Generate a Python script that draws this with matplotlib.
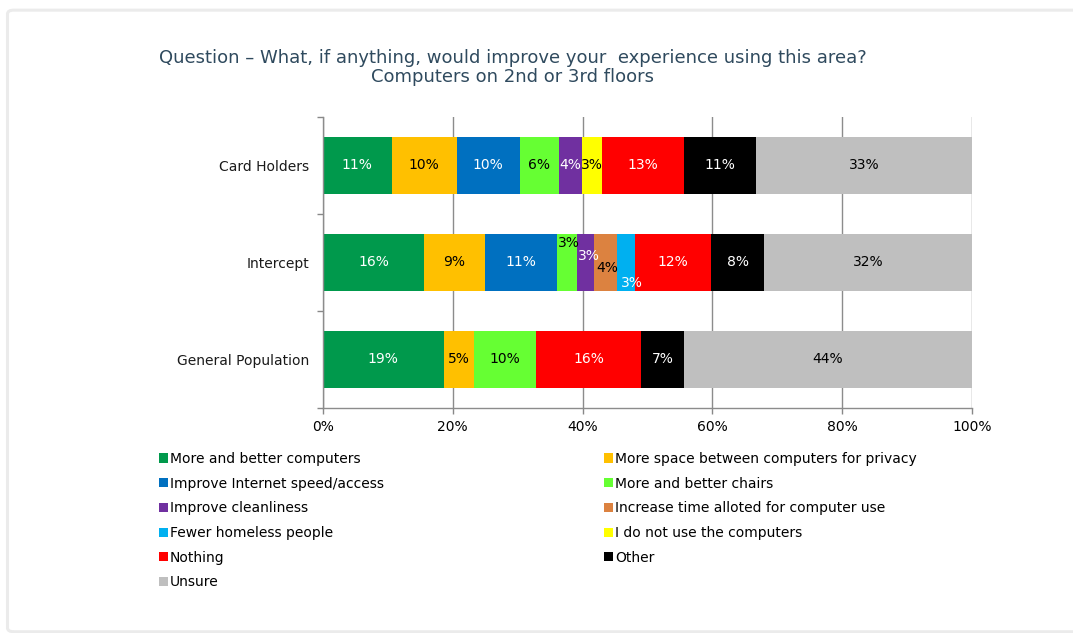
import matplotlib.pyplot as plt
import numpy as np
from matplotlib.patches import Patch, FancyBboxPatch

# Survey groups, top to bottom
groups = ['Card Holders', 'Intercept', 'General Population']

# Response options in stacking order
answers = ['More and better computers',
           'More space between computers for privacy',
           'Improve Internet speed/access',
           'More and better chairs',
           'Improve cleanliness',
           'Increase time alloted for computer use',
           'Fewer homeless people',
           'I do not use the computers',
           'Nothing',
           'Other',
           'Unsure']

# Percent of each group (Card Holders, Intercept, General Population)
better_computers = [10.6, 15.6, 18.6]
more_space = [10.0, 9.3, 4.6]
internet = [9.7, 11.1, 0.0]
chairs = [6.0, 3.1, 9.6]
cleanliness = [3.6, 2.6, 0.0]
more_time = [0.0, 3.6, 0.0]
homeless = [0.0, 2.8, 0.0]
dont_use = [3.1, 0.0, 0.0]
nothing = [12.6, 11.7, 16.2]
other = [11.1, 8.2, 6.6]
unsure = [33.3, 32.0, 44.4]

series = [better_computers, more_space, internet, chairs, cleanliness,
          more_time, homeless, dont_use, nothing, other, unsure]

colors = ['#00994C', '#FFC000', '#0070C0', '#66FF33', '#7030A0',
          '#DC8240', '#00B0F0', '#FFFF00', '#FF0000', '#000000', '#BFBFBF']
text_colors = ['white', 'black', 'white', 'black', 'white',
               'black', 'white', 'black', 'white', 'white', 'black']

# hand-placed labels for the thin Intercept segments (pixel offsets)
nudges = {(3, 1): (2, 19), (4, 1): (4, 6), (5, 1): (2, -6), (6, 1): (6, -21)}

fig = plt.figure(figsize=(10.73, 6.33), dpi=100)

# light rounded border around the chart area
frame = FancyBboxPatch((0.007, 0.002), 1.2, 0.982, boxstyle='round,pad=0,rounding_size=0.006',
                       transform=fig.transFigure, facecolor='none',
                       edgecolor='#EBEBEB', linewidth=2.2, zorder=-1)
fig.patches.append(frame)

ax = fig.add_axes([0.3010, 0.3555, 0.6049, 0.4597])
ax.set_facecolor('none')

y = np.arange(len(groups))
left = np.zeros(len(groups))
for i, vals in enumerate(series):
    vals = np.array(vals)
    ax.barh(y, vals, left=left, height=0.59, color=colors[i], zorder=2)
    for j, v in enumerate(vals):
        if v <= 0:
            continue
        dx, dy = nudges.get((i, j), (0, 0))
        ax.annotate('%.0f%%' % v, (left[j] + v / 2, y[j]), xytext=(dx, dy),
                    textcoords='offset pixels', ha='center', va='center',
                    fontsize=10, color=text_colors[i], zorder=3)
    left += vals

ax.set_xlim(0, 100)
ax.set_ylim(len(groups) - 0.5, -0.5)
ax.set_xticks(np.arange(0, 101, 20))
ax.set_xticklabels(['%d%%' % t for t in range(0, 101, 20)], fontsize=10)
ax.set_yticks(y)
ax.set_yticklabels(groups, fontsize=10, color='#1a1a1a')
ax.set_yticks(np.arange(-0.5, len(groups)), minor=True)
ax.tick_params(axis='y', which='major', length=0, pad=10)
ax.tick_params(axis='y', which='minor', length=4, color='#888888', width=1)
ax.tick_params(axis='x', length=4, color='#888888', width=1, pad=5)

ax.grid(axis='x', color='#8C8C8C', linewidth=1.0, zorder=1)
ax.set_axisbelow(True)
for side in ['top', 'right']:
    ax.spines[side].set_visible(False)
for side in ['left', 'bottom']:
    ax.spines[side].set_color('#8C8C8C')
    ax.spines[side].set_linewidth(1.0)

fig.text(0.478, 0.908, 'Question \u2013 What, if anything, would improve your  experience using this area?',
         ha='center', va='center', fontsize=13, color='#2F4A5E')
fig.text(0.478, 0.878, 'Computers on 2nd or 3rd floors',
         ha='center', va='center', fontsize=13, color='#2F4A5E')

# two-column legend, filled row by row
handles = [Patch(facecolor=c, edgecolor='none') for c in colors]
for col, x0 in [(0, 0.148), (1, 0.563)]:
    idx = list(range(col, len(answers), 2))
    fig.legend([handles[k] for k in idx], [answers[k] for k in idx],
               loc='upper left', bbox_to_anchor=(x0, 0.286), frameon=False,
               fontsize=10, handlelength=0.65, handleheight=0.65,
               handletextpad=0.15, labelspacing=0.77, borderaxespad=0,
               borderpad=0)

fig.savefig('out.png', dpi=100)
